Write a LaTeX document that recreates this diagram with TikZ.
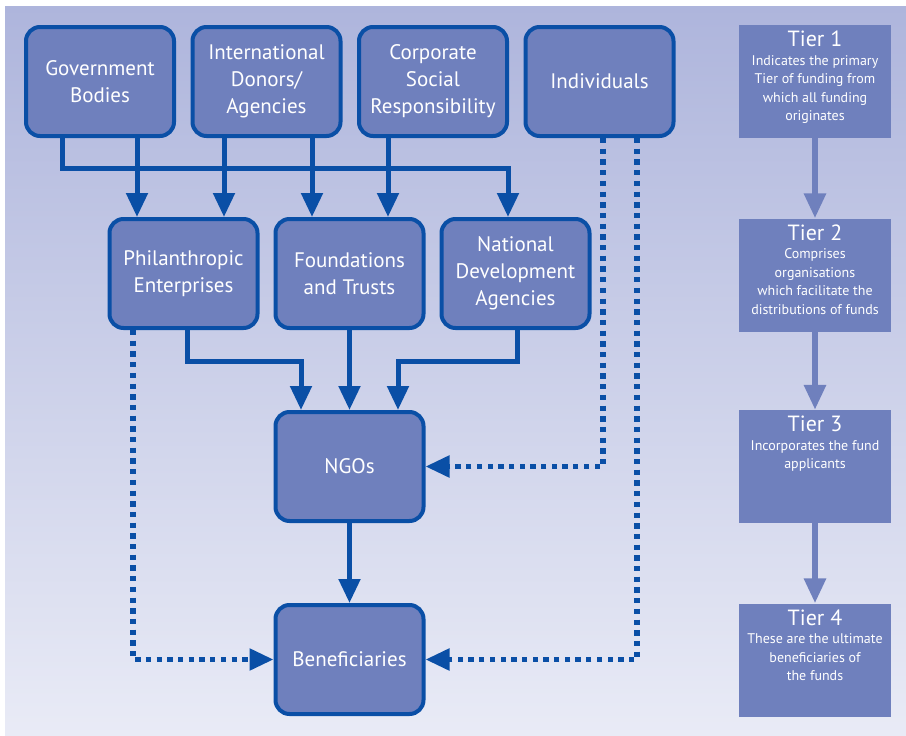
\documentclass[tikz,border=0pt]{standalone}
\usepackage{fontspec}
\setmainfont{PT Sans}
\usepackage{xcolor}
\usepackage{tikz}
\usetikzlibrary{arrows.meta, positioning}

\definecolor{boxblue}{HTML}{6F80BD}
\definecolor{dkblue}{HTML}{0A4FA6}
\definecolor{bgtop}{HTML}{AEB5DC}
\definecolor{bgbot}{HTML}{E9EBF6}

\tikzset{
  mainbox/.style={draw=dkblue, line width=4pt, fill=boxblue, rounded corners=14pt,
    minimum width=148pt, minimum height=109pt, inner sep=0pt, align=center,
    text=white, font=\fontsize{21}{27}\selectfont},
  tierbox/.style={fill=boxblue, minimum width=152pt, minimum height=113pt, inner sep=0pt},
  tiertext/.style={text=white, align=center, inner sep=0pt,
    font=\fontsize{14}{18.5}\selectfont},
  conn/.style={draw=dkblue, line width=5pt, -{Triangle[width=21pt,length=24pt]}},
  bus/.style={draw=dkblue, line width=5pt},
  dotconn/.style={draw=dkblue, line width=5.3pt, dash pattern=on 5.3pt off 5.4pt,
    -{Triangle[width=21pt,length=24pt]}},
  tierarrow/.style={draw=boxblue, line width=6pt, -{Triangle[width=21pt,length=25pt]}}
}
\newcommand{\tiertitle}{\fontsize{22}{23}\selectfont}

\begin{document}
\begin{tikzpicture}[x=1pt, y=-1pt]
  \useasboundingbox (0,0) rectangle (906,736);
  % 1. Nen
  \shade[top color=bgtop, bottom color=bgbot] (5,6) rectangle (906,736);

  % 2. Cac nut chinh
  \node[mainbox] (gov)    at (100,81.5)   {Government\\Bodies};
  \node[mainbox] (donors) at (266.5,81.5) {International\\Donors/\\Agencies};
  \node[mainbox] (csr)    at (433,81.5)   {Corporate\\Social\\Responsibility};
  \node[mainbox] (indiv)  at (599.5,81.5) {Individuals};

  \node[mainbox] (phil)  at (183.5,273.5) {Philanthropic\\Enterprises};
  \node[mainbox] (found) at (349.5,273.5) {Foundations\\and Trusts};
  \node[mainbox] (nat)   at (515.5,273.5) {National\\Development\\Agencies};

  \node[mainbox] (ngo) at (349.5,466.5) {NGOs};
  \node[mainbox] (ben) at (349.5,659.5) {Beneficiaries};

  % 3. Cac cap (tier)
  \node[tierbox] (tierA) at (815,81.5)  {};
  \node[tierbox] (tierB) at (815,275)   {};
  \node[tierbox] (tierC) at (815,466.5) {};
  \node[tierbox] (tierD) at (815,660)   {};
  \node[tiertext, below=6pt of tierA.north] (tierAtxt)
    {{\tiertitle Tier 1}\\Indicates the primary\\Tier of funding from\\which all funding\\originates};
  \node[tiertext, below=6pt of tierB.north] (tierBtxt)
    {{\tiertitle Tier 2}\\Comprises\\organisations\\which facilitate the\\distributions of funds};
  \node[tiertext, below=6pt of tierC.north] (tierCtxt)
    {{\tiertitle Tier 3}\\Incorporates the fund\\applicants};
  \node[tiertext, below=6pt of tierD.north] (tierDtxt)
    {{\tiertitle Tier 4}\\These are the ultimate\\beneficiaries of\\the funds};
  \draw[tierarrow] (tierA.south) -- (tierB.north);
  \draw[tierarrow] (tierB.south) -- (tierC.north);
  \draw[tierarrow] (tierC.south) -- (tierD.north);

  % 4. Duong truc chung (bus) tu hang tren
  \coordinate (busL) at (62,168);
  \coordinate (busR) at (508,168);
  \draw[bus] (gov.south -| busL) -- (busL) -- (busR);
  \draw[conn] ([xshift=-2.5pt]busR) -- (busR) -- (busR |- nat.north);
  \foreach \src/\dst/\xx in {gov/phil/137, donors/phil/224, donors/found/312, csr/found/388} {
    \coordinate (drop) at (\xx,0);
    \draw[conn] (\src.south -| drop) -- (\dst.north -| drop);
  }

  % 5. Hang giua xuong NGOs
  \coordinate (philA) at (187,361);
  \coordinate (ngoA)  at (301,361);
  \coordinate (natA)  at (517,361);
  \coordinate (ngoC)  at (398,361);
  \draw[conn] (phil.south -| philA) -- (philA) -- (ngoA) -- (ngo.north -| ngoA);
  \draw[conn] (found.south) -- (ngo.north);
  \draw[conn] (nat.south -| natA) -- (natA) -- (ngoC) -- (ngo.north -| ngoC);
  \draw[conn] (ngo.south) -- (ben.north);

  % 6. Duong cham
  \coordinate (philD)  at (133,0);
  \coordinate (indivA) at (603,0);
  \coordinate (indivB) at (637,0);
  \draw[dotconn] (phil.south -| philD) |- (ben.west);
  \draw[dotconn] (indiv.south -| indivA) |- (ngo.east);
  \draw[dotconn] (indiv.south -| indivB) |- (ben.east);
\end{tikzpicture}
\end{document}
